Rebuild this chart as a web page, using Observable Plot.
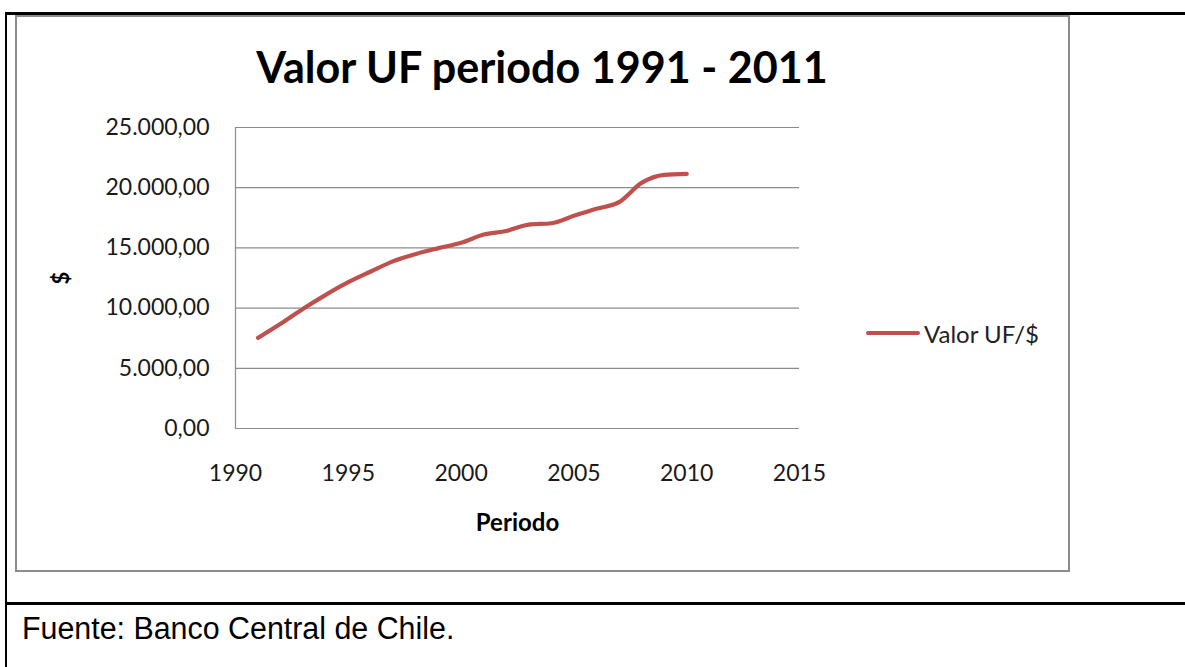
<!DOCTYPE html>
<html>
<head>
<meta charset="utf-8">
<script src="https://cdn.jsdelivr.net/npm/d3@7"></script>
<script src="https://cdn.jsdelivr.net/npm/@observablehq/plot@0.6"></script>
<style>
  html, body { margin: 0; padding: 0; background: #fff; }
  #page { position: relative; width: 1185px; height: 667px; overflow: hidden; font-family: Lato, "Open Sans", sans-serif; }
  .abs { position: absolute; }
  #title { left: 16px; width: 1052px; top: 38px; text-align: center; font-weight: bold; font-size: 44px; color: #000; line-height: 56px; white-space: nowrap; }
  #legend { left: 866px; top: 318px; height: 30px; display: flex; align-items: center; }
  #legend .sw { width: 54px; height: 4px; background: #C0504D; border-radius: 2px; }
  #legend .lb { margin-left: 4px; font-size: 24px; color: #222; }
  #caption { left: 22px; top: 611px; font-family: "Liberation Sans", Arial, sans-serif; font-size: 31px; line-height: 36px; color: #000; white-space: nowrap; transform-origin: left center; transform: scaleX(0.98); }
  #chart { left: 0px; top: 100px; }
</style>
</head>
<body>
<div id="page">
  <div class="abs" style="left:5px; top:12px; width:1180px; height:3px; background:#000;"></div>
  <div class="abs" style="left:5px; top:12px; width:2px; height:655px; background:#000;"></div>
  <div class="abs" style="left:5px; top:602px; width:1180px; height:3px; background:#000;"></div>
  <div class="abs" style="left:15px; top:15px; width:1051px; height:553px; border:2px solid #8c8c8c;"></div>
  <div id="title" class="abs">Valor UF periodo 1991 - 2011</div>
  <div id="chart" class="abs"></div>
  <div id="legend" class="abs"><div class="sw"></div><div class="lb">Valor UF/$</div></div>
  <div id="caption" class="abs">Fuente: Banco Central de Chile.</div>
</div>
<script>
const years = [1991,1992,1993,1994,1995,1996,1997,1998,1999,2000,2001,2002,2003,2004,2005,2006,2007,2008,2009,2010];
const ufValues = [7530,8700,9950,11100,12150,13040,13900,14500,14980,15420,16110,16400,16940,17050,17660,18250,18800,20400,21070,21150];
const xTicks = [1990,1995,2000,2005,2010,2015];
const yTicks = [0,5000,10000,15000,20000,25000];
const seriesName = "Valor UF/$";
const xLabel = "Periodo";
const yLabel = "$";

const data = years.map((y, i) => ({year: y, value: ufValues[i]}));
const es = d3.formatLocale({decimal: ",", thousands: ".", grouping: [3], currency: ["$", ""]});
const fmt = es.format(",.2f");

const chart = Plot.plot({
  width: 1070,
  height: 460,
  marginLeft: 235,
  marginRight: 271,
  marginTop: 27,
  marginBottom: 132,
  style: {fontFamily: "Lato, 'Open Sans', sans-serif", fontSize: "23px", color: "#1a1a1a", background: "transparent"},
  x: {domain: [1990, 2015], ticks: xTicks, tickFormat: d => String(d), tickSize: 0, tickPadding: 36,
      label: xLabel, labelAnchor: "center", labelArrow: "none", labelOffset: 102},
  y: {domain: [0, 25000], ticks: yTicks, tickFormat: fmt, tickSize: 0, tickPadding: 26,
      label: yLabel, labelAnchor: "center", labelArrow: "none", labelOffset: 182},
  marks: [
    Plot.gridY(yTicks, {stroke: "#8c8c8c", strokeOpacity: 1, strokeWidth: 1.2}),
    Plot.ruleX([1990], {stroke: "#8c8c8c", strokeWidth: 1.2}),
    Plot.line(data, {x: "year", y: "value", stroke: "#C0504D", strokeWidth: 4.2, curve: "monotone-x", strokeLinecap: "round", strokeLinejoin: "round"})
  ]
});
chart.querySelectorAll("g[aria-label='x-axis label'] text").forEach(t => {
  t.setAttribute("font-weight", "bold");
  t.setAttribute("font-size", "24");
  t.setAttribute("fill", "#000");
});
chart.querySelectorAll("g[aria-label='y-axis label'] text").forEach(t => {
  t.setAttribute("font-weight", "bold");
  t.setAttribute("font-size", "22");
  t.setAttribute("fill", "#000");
});
document.getElementById("chart").appendChild(chart);

const legendLabel = document.querySelector("#legend .lb");
legendLabel.textContent = seriesName;

// fit title width to reference (~574px)
const title = document.getElementById("title");
const c = document.createElement("canvas").getContext("2d");
c.font = "bold 44px Lato";
const w = c.measureText(title.textContent).width;
const fs = Math.min(48, 44 * 574 / w);
title.style.fontSize = fs.toFixed(1) + "px";
</script>
</body>
</html>
